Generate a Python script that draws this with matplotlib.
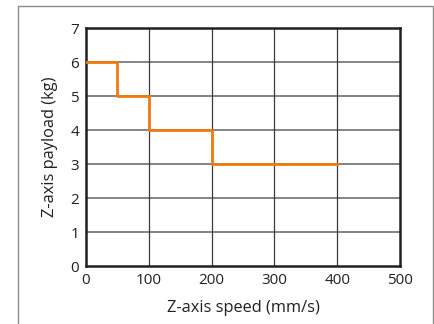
import numpy as np
import matplotlib.pyplot as plt
from matplotlib.patches import Rectangle

plt.rcParams['font.family'] = ['Open Sans', 'DejaVu Sans']

speed = [0, 50, 100, 200, 400]
payload = [6, 5, 4, 3, 3]
xticks = [0, 100, 200, 300, 400, 500]
yticks = [0, 1, 2, 3, 4, 5, 6, 7]

fig = plt.figure(figsize=(4.35, 3.24), dpi=100)
W, H = 435, 324
ax = fig.add_axes([86 / W, 1 - 266 / H, (400 - 86) / W, (266 - 28) / H])

# outer frame around the whole figure
fig.patches.append(Rectangle((18 / W, -0.1), (433 - 18) / W, 0.1 + 1 - 6 / H,
                             transform=fig.transFigure, fill=False,
                             edgecolor='#8a8a8a', linewidth=1.0))

ax.set_xlim(0, 500)
ax.set_ylim(0, 7)
ax.set_xticks(xticks)
ax.set_yticks(yticks)
ax.tick_params(length=0, labelsize=11, colors='#231f20', pad=5)

for y in yticks[1:-1]:
    ax.axhline(y, color='#7a7a7a', linewidth=1.3, zorder=1)
for x in xticks[1:-1]:
    ax.axvline(x, color='#3a3a3a', linewidth=0.9, zorder=1)

ax.plot(speed, payload, drawstyle='steps-post', color='#f07a10',
        linewidth=2.0, zorder=3)

for s in ax.spines.values():
    s.set_linewidth(1.8)
    s.set_color('#231f20')

ax.set_xlabel('Z-axis speed (mm/s)', fontsize=11.8, color='#231f20', labelpad=9)
ax.set_ylabel('Z-axis payload (kg)', fontsize=11.8, color='#231f20', labelpad=9)

fig.savefig('out.png', dpi=100)
